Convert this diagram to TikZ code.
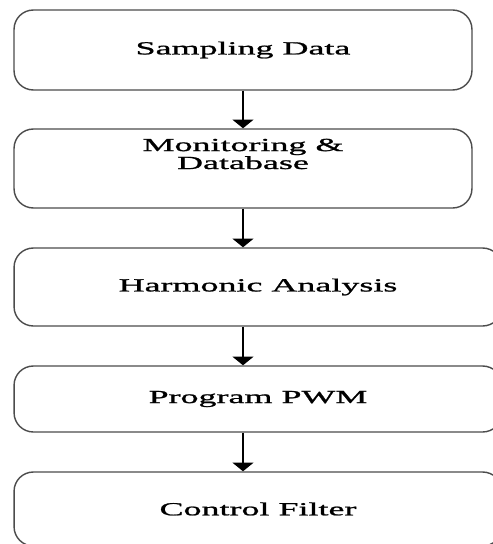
\documentclass[tikz,border=0pt]{standalone}
\usepackage{fontspec}
\newfontfamily\stagefont[FakeStretch=1.95,FakeBold=1.2]{Liberation Serif}
\usetikzlibrary{positioning,arrows.meta}

\tikzset{
  stagetext/.style={inner sep=0pt, align=center,
    font=\stagefont\fontsize{10.5pt}{10.2pt}\selectfont},
  stage/.style={stagetext, draw=black!70, line width=0.8pt, rounded corners=11pt},
  narrow/.style={stage, minimum width=9.16cm},
  wide/.style={stage, minimum width=9.76cm},
  flow/.style={-{Triangle[width=12pt,length=5pt]}, line width=1.1pt},
}

\begin{document}
\begin{tikzpicture}[x=0.02cm,y=-0.02cm]
\useasboundingbox (0,0) rectangle (493,544);

% stages, top to bottom
\node[narrow, minimum height=1.6cm]  (samp) at (243,50)    {Sampling Data};
\node[narrow, minimum height=1.58cm] (mon)  at (243,168.5) {};
\node[stagetext] (montxt) at (243,154) {Monitoring \&\\Database};
\node[wide, minimum height=1.56cm]   (harm) at (258,287)   {Harmonic Analysis};
\node[wide, minimum height=1.32cm]   (pwm)  at (258,399)   {Program PWM};
\node[wide, minimum height=1.48cm]   (filt) at (258,509)   {Control Filter};

% arrows between stages
\draw[flow] (samp.south) -- (samp.south |- mon.north);
\draw[flow] (samp.south |- mon.south) -- (samp.south |- harm.north);
\draw[flow] (samp.south |- harm.south) -- (samp.south |- pwm.north);
\draw[flow] (samp.south |- pwm.south) -- (samp.south |- filt.north);
\end{tikzpicture}
\end{document}
